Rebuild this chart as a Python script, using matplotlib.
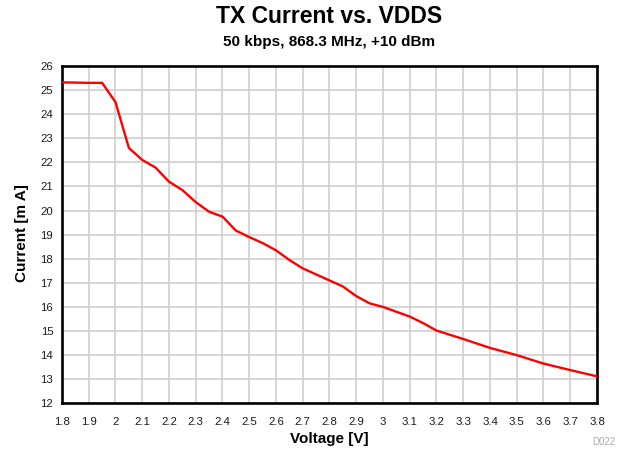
import matplotlib
matplotlib.use("Agg")
import matplotlib.pyplot as plt

plt.rcParams['font.family'] = ['Liberation Sans', 'DejaVu Sans']

voltage = [1.8, 1.9, 1.95, 2.0, 2.05, 2.1, 2.15, 2.2, 2.25, 2.3, 2.35, 2.4, 2.45,
           2.5, 2.55, 2.6, 2.65, 2.7, 2.75, 2.8, 2.85, 2.9, 2.95, 3.0, 3.05, 3.1,
           3.15, 3.2, 3.3, 3.4, 3.5, 3.6, 3.7, 3.8]
current = [25.32, 25.3, 25.3, 24.5, 22.6, 22.1, 21.78, 21.2, 20.85, 20.35, 19.95,
           19.75, 19.17, 18.9, 18.65, 18.35, 17.95, 17.6, 17.35, 17.1, 16.85, 16.45,
           16.15, 16.0, 15.8, 15.6, 15.33, 15.02, 14.67, 14.3, 14.0, 13.65, 13.38, 13.12]

x_ticks = [1.8, 1.9, 2.0, 2.1, 2.2, 2.3, 2.4, 2.5, 2.6, 2.7, 2.8, 2.9, 3.0, 3.1,
           3.2, 3.3, 3.4, 3.5, 3.6, 3.7, 3.8]
x_tick_labels = ["1.8", "1.9", "2", "2.1", "2.2", "2.3", "2.4", "2.5", "2.6", "2.7",
                 "2.8", "2.9", "3", "3.1", "3.2", "3.3", "3.4", "3.5", "3.6", "3.7", "3.8"]
y_ticks = list(range(12, 27))

fig = plt.figure(figsize=(6.18, 4.51), dpi=100)
ax = fig.add_axes([0.1003, 0.1057, 0.8657, 0.748])

ax.plot(voltage, current, color='#ff0000', linewidth=1.7, zorder=3)

ax.set_xlim(1.8, 3.8)
ax.set_ylim(12, 26)
ax.set_xticks(x_ticks)
ax.set_xticklabels(x_tick_labels)
ax.set_yticks(y_ticks)
ax.grid(True, color='#cfcfcf', linewidth=1.2)
ax.set_axisbelow(True)
ax.tick_params(axis='both', length=0, labelsize=8.2, colors='#1a1a1a')
ax.tick_params(axis='x', pad=10)
ax.tick_params(axis='y', pad=6.3)
for s in ax.spines.values():
    s.set_linewidth(1.9)
    s.set_color('black')

ax.set_xlabel('Voltage [V]', fontsize=11, fontweight='bold', va='baseline')
ax.xaxis.set_label_coords(0.5, -0.1168)
ax.set_ylabel('Current [m A]', fontsize=11, fontweight='bold', va='center')
ax.yaxis.set_label_coords(-0.0756, 0.505)

fig.text(0.5325, 0.9497, 'TX Current vs. VDDS', ha='center', va='baseline',
         fontsize=16.5, fontweight='bold')
fig.text(0.5325, 0.898, '50 kbps, 868.3 MHz, +10 dBm', ha='center', va='baseline',
         fontsize=11, fontweight='bold')
fig.text(0.995, 0.014, 'D022', ha='right', va='baseline', fontsize=7, color='#aaaaaa')

fig.savefig('out.png', dpi=100)
